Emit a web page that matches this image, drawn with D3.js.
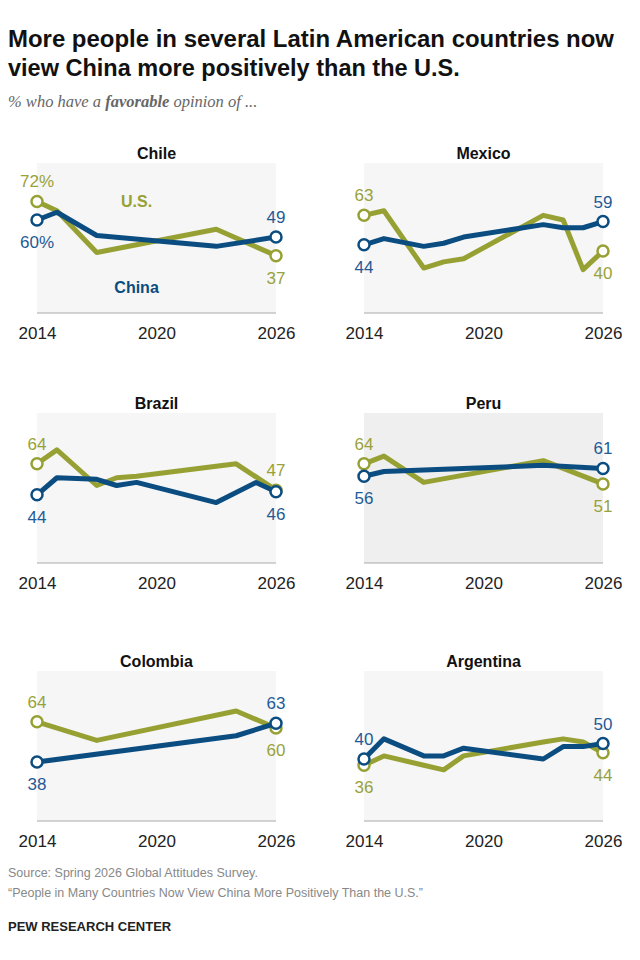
<!DOCTYPE html>
<html><head><meta charset="utf-8">
<script src="https://cdn.jsdelivr.net/npm/d3@7"></script>
<style>body{margin:0;background:#fff}svg{font-family:"Liberation Sans",Arial,sans-serif}</style>
</head><body><svg id="c" width="640" height="960"></svg>
<script>
const countries = ["Chile","Mexico","Brazil","Peru","Colombia","Argentina"];
const usData = {
  Chile:[[2014,72],[2015,66],[2017,39],[2023,54],[2026,37]],
  Mexico:[[2014,63],[2015,66],[2017,29],[2018,33],[2019,35],[2023,63],[2024,60],[2025,28],[2026,40]],
  Brazil:[[2014,64],[2015,73],[2017,50],[2018,55],[2019,56],[2024,64],[2026,47]],
  Peru:[[2014,64],[2015,69],[2017,52],[2023,66],[2026,51]],
  Colombia:[[2014,64],[2017,52],[2024,71],[2026,60]],
  Argentina:[[2014,36],[2015,42],[2017,36],[2018,33],[2019,42],[2023,51],[2024,53],[2025,51],[2026,44]]
};
const chinaData = {
  Chile:[[2014,60],[2015,65],[2017,50],[2023,43],[2026,49]],
  Mexico:[[2014,44],[2015,48],[2017,43],[2018,45],[2019,49],[2023,57],[2024,55],[2025,55],[2026,59]],
  Brazil:[[2014,44],[2015,55],[2017,54],[2018,50],[2019,52],[2023,39],[2025,52],[2026,46]],
  Peru:[[2014,56],[2015,59],[2023,63],[2026,61]],
  Colombia:[[2014,38],[2024,55],[2026,63]],
  Argentina:[[2014,40],[2015,53],[2017,42],[2018,42],[2019,47],[2023,40],[2024,48],[2025,48],[2026,50]]
};
// label side: -1 above, 1 below  [US start, US end, China start, China end]
const labelSide = {
  Chile:[-1,1,1,-1], Mexico:[-1,1,1,-1], Brazil:[-1,-1,1,1],
  Peru:[-1,1,1,-1], Colombia:[-1,1,1,-1], Argentina:[1,1,-1,-1]
};
const yearTicks = [2014,2020,2026];

const svg = d3.select("#c");
const US="#97a133", CN="#0b4d80", USt="#98a23a", CNt="#1f5b96";
svg.append("text").attr("x",8).attr("y",47).attr("font-size",23.5).attr("font-weight","bold").attr("fill","#111")
  .attr("textLength",606).attr("lengthAdjust","spacingAndGlyphs")
  .text("More people in several Latin American countries now");
svg.append("text").attr("x",8).attr("y",76).attr("font-size",23.5).attr("font-weight","bold").attr("fill","#111")
  .text("view China more positively than the U.S.");
const st = svg.append("text").attr("x",8).attr("y",107).attr("font-size",16.5).attr("font-style","italic")
  .attr("fill","#666").attr("font-family","'Liberation Serif',serif");
st.append("tspan").text("% who have a ");
st.append("tspan").attr("font-weight","bold").text("favorable");
st.append("tspan").text(" opinion of ...");

const cols=[37,364], bases=[313,563,821], W=239, H=150, pxPer=1.55;
countries.forEach((c,i)=>{
  const x0=cols[i%2], base=bases[Math.floor(i/2)];
  const g=svg.append("g");
  const x=d3.scaleLinear().domain([2014,2026]).range([x0,x0+W]);
  const y=d3.scaleLinear().domain([0,100]).range([base,base-100*pxPer]);
  g.append("rect").attr("x",x0).attr("y",base-H).attr("width",W).attr("height",H).attr("fill",c==="Peru"?"#efefef":"#f6f6f6");
  g.append("line").attr("x1",x0).attr("x2",x0+W).attr("y1",base).attr("y2",base).attr("stroke","#aaa").attr("stroke-width",1.2);
  g.append("text").attr("x",x0+W/2).attr("y",base-H-4).attr("text-anchor","middle").attr("font-weight","bold").attr("font-size",16).attr("fill","#111").text(c);
  const ax=d3.axisBottom(x).tickValues(yearTicks).tickFormat(d3.format("d")).tickSize(0);
  const a=g.append("g").attr("transform",`translate(0,${base+8})`).call(ax);
  a.select(".domain").remove();
  a.selectAll("text").attr("font-size",17).attr("fill","#222").attr("dy","0.9em").attr("font-family","'Liberation Sans',Arial,sans-serif");
  const line=d3.line().x(d=>x(d[0])).y(d=>y(d[1]));
  [[usData[c],US,USt,0],[chinaData[c],CN,CNt,2]].forEach(([data,col,tcol,k])=>{
    g.append("path").attr("d",line(data)).attr("fill","none").attr("stroke",col).attr("stroke-width",5).attr("stroke-linejoin","round");
    [data[0],data[data.length-1]].forEach((d,j)=>{
      g.append("circle").attr("cx",x(d[0])).attr("cy",y(d[1])).attr("r",5.5).attr("fill","#fff").attr("stroke",col).attr("stroke-width",2.5);
      const side=labelSide[c][k+j];
      const lab = (c==="Chile"&&j===0)? d[1]+"%" : d[1];
      g.append("text").attr("x",x(d[0])).attr("y",y(d[1])+(side<0?-14:28)).attr("text-anchor","middle")
        .attr("font-size",17).attr("fill",tcol).text(lab);
    });
  });
  if(c==="Chile"){
    g.append("text").attr("x",x(2019)).attr("y",y(72)+6).attr("text-anchor","middle").attr("font-weight","bold").attr("font-size",16).attr("fill",US).text("U.S.");
    g.append("text").attr("x",x(2019)).attr("y",y(16)+5).attr("text-anchor","middle").attr("font-weight","bold").attr("font-size",16).attr("fill",CN).text("China");
  }
});
svg.append("text").attr("x",8).attr("y",877).attr("font-size",12.5).attr("fill","#888").text("Source: Spring 2026 Global Attitudes Survey.");
svg.append("text").attr("x",8).attr("y",897).attr("font-size",12.5).attr("fill","#888").text("\u201cPeople in Many Countries Now View China More Positively Than the U.S.\u201d");
svg.append("text").attr("x",8).attr("y",931).attr("font-size",13).attr("font-weight","bold").attr("fill","#222").text("PEW RESEARCH CENTER");
</script></body></html>
